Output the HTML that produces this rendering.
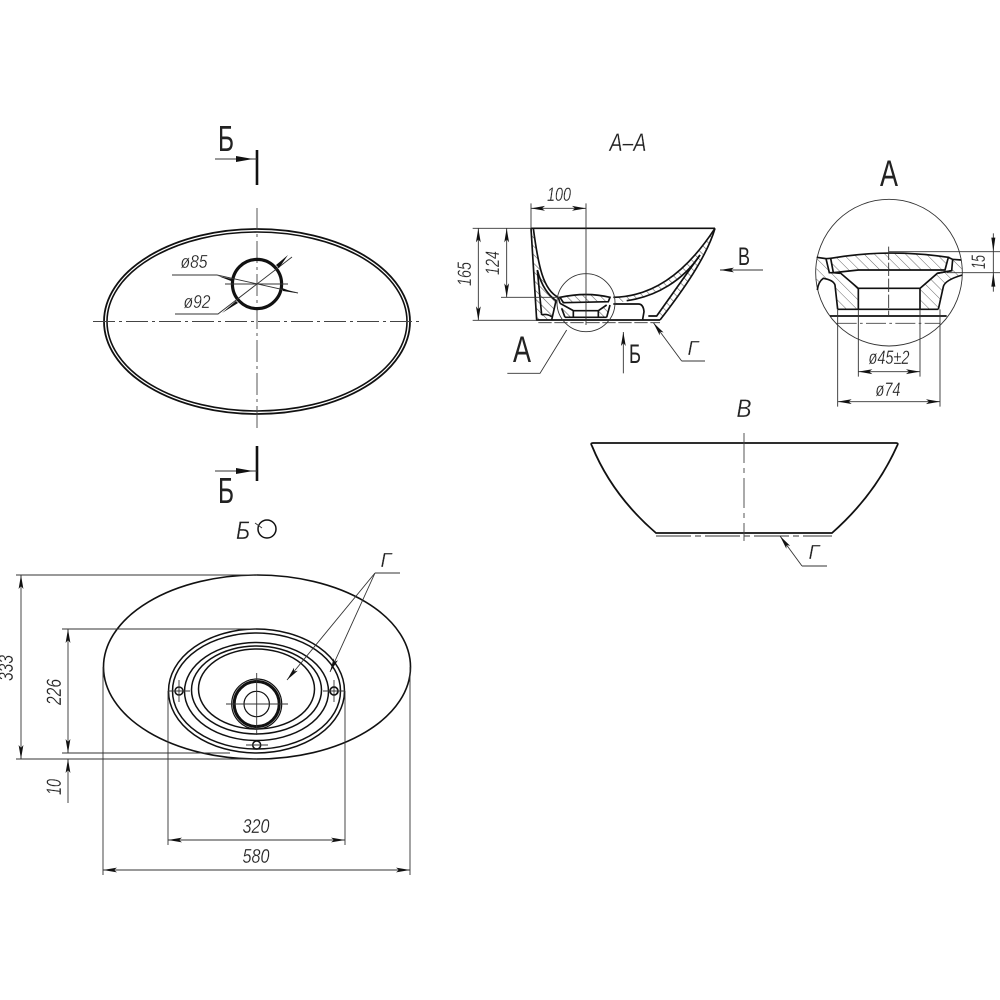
<!DOCTYPE html>
<html><head><meta charset="utf-8">
<style>
html,body{margin:0;padding:0;background:#fff}
svg{display:block}
text{font-family:"Liberation Sans",sans-serif;fill:#222;text-anchor:middle}
.i{font-style:italic;font-weight:normal;stroke:#fff;stroke-width:.25px}
.t{fill:none;stroke:#333;stroke-width:.9}
.m{fill:none;stroke:#111;stroke-width:1.8}
.c{fill:none;stroke:#444;stroke-width:.9;stroke-dasharray:22 4 3 4}
.d{fill:none;stroke:#333;stroke-width:.9;marker-start:url(#as);marker-end:url(#a)}
.e{fill:none;stroke:#333;stroke-width:.9;marker-end:url(#a)}
.z .t{stroke-width:2.7}
.z .m{stroke-width:5}
.z .d{stroke-width:2.7;marker-start:url(#asz);marker-end:url(#az)}
.z .c{stroke-width:2.7;stroke-dasharray:60 10 8 10}
</style></head><body>
<svg width="1000" height="1000" viewBox="0 0 1000 1000" xmlns="http://www.w3.org/2000/svg">
<defs>
<marker id="a" markerUnits="userSpaceOnUse" markerWidth="15" markerHeight="6" refX="14" refY="3" orient="auto"><path d="M0,.6L14,3L0,5.4L3,3Z" fill="#111"/></marker>
<marker id="as" markerUnits="userSpaceOnUse" markerWidth="15" markerHeight="6" refX="1" refY="3" orient="auto"><path d="M15,.6L1,3L15,5.4L12,3Z" fill="#111"/></marker>
<marker id="az" markerUnits="userSpaceOnUse" markerWidth="45" markerHeight="18" refX="42" refY="9" orient="auto"><path d="M0,1.8L42,9L0,16.2L9,9Z" fill="#111"/></marker>
<marker id="asz" markerUnits="userSpaceOnUse" markerWidth="45" markerHeight="18" refX="3" refY="9" orient="auto"><path d="M45,1.8L3,9L45,16.2L36,9Z" fill="#111"/></marker>
<pattern id="hz" width="22" height="22" patternUnits="userSpaceOnUse" patternTransform="rotate(-45)"><line x1="0" y1="0" x2="0" y2="22" stroke="#444" stroke-width="2.4"/></pattern>
<pattern id="hs" width="18" height="18" patternUnits="userSpaceOnUse" patternTransform="rotate(-45)"><line x1="0" y1="0" x2="0" y2="18" stroke="#555" stroke-width="3.4"/></pattern>
</defs>
<rect width="1000" height="1000" fill="#fff"/>

<!-- Top view -->
<ellipse cx="257" cy="321.5" rx="153" ry="92.5" fill="none" stroke="#111" stroke-width="1.8"/>
<ellipse cx="257" cy="321.5" rx="150" ry="89.5" fill="none" stroke="#111" stroke-width="1.6"/>
<path class="c" d="M93,321.5H421M257,208V428"/>
<circle cx="257" cy="284" r="24.6" fill="none" stroke="#111" stroke-width="3.2"/>
<path class="t" d="M225,284H288"/>
<path class="t" d="M172,275H217L298,293"/>
<path class="t" d="M175,314H218L292,257"/>
<path d="M218,276 L232,279 L231,281Z M282,288 L296,293 L283,291Z M222,313 L236,301 L238,303Z M276,265 L288,255 L279,268Z" fill="#111"/>
<text class="i" x="194" y="268" font-size="18" textLength="27" lengthAdjust="spacingAndGlyphs">ø85</text>
<text class="i" x="197" y="308" font-size="18" textLength="27" lengthAdjust="spacingAndGlyphs">ø92</text>
<path d="M257,150V185M257,446V481" stroke="#111" stroke-width="2.6" fill="none"/>
<path class="t" d="M215,159H257M215,471H257"/>
<path d="M236,156L253,159L236,162Z M236,468L253,471L236,474Z" fill="#111"/>
<text x="226" y="151" font-size="36" textLength="16" lengthAdjust="spacingAndGlyphs">Б</text>
<text x="226" y="503" font-size="36" textLength="16" lengthAdjust="spacingAndGlyphs">Б</text>

<!-- Section A-A -->
<text class="i" x="628" y="151" font-size="25" textLength="37" lengthAdjust="spacingAndGlyphs">А–А</text>
<g class="z" transform="translate(450,180) scale(.33333)">
<path fill="url(#hs)" d="M243,145 L250,145 C265,260 280,330 325,352 L305,420 L260,420Z"/>
<path fill="url(#hs)" d="M490,352 C600,350 700,290 795,145 C770,230 700,330 630,420 L620,408 L750,225 C700,300 620,350 530,362 L500,372Z"/>
<path fill="url(#hs)" d="M330,352 Q410,335 480,352 L475,365 L340,368Z"/>
<path fill="url(#hs)" d="M330,370 L370,392 V412 H345 Z M470,375 L445,392 V412 H470 L480,375Z"/>
<path class="m" d="M243,145 H795"/>
<path class="m" d="M243,145 L260,420 H630"/>
<path class="m" d="M250,145 C265,260 280,330 325,352"/>
<path class="m" d="M262,270 L275,405 M262,270 C275,320 295,345 318,362 L305,420 M325,352 L330,370"/>
<path class="m" d="M490,352 C600,350 700,290 795,145"/>
<path class="m" d="M530,362 C620,350 700,300 750,225"/>
<path class="m" d="M795,145 C770,230 700,330 630,420"/>
<path class="m" d="M750,225 L620,408 H595"/>
<path class="m" d="M490,372 H565 Q580,372 582,395 L578,418"/>
<path class="m" d="M330,352 Q410,335 480,352 L475,365 L340,368Z"/>
<path class="m" d="M330,370 L370,392 H445 L470,375 M370,392 V412 H445 V392 M345,412 L335,385 M470,412 L480,375 M345,412 H470"/>
<path class="m" d="M275,405 Q290,400 305,410"/>
<path class="t" d="M265,428 H630" stroke-dasharray="40 8"/>
<circle class="t" cx="408" cy="368" r="87"/>
<path class="t" d="M350,450 L270,580 H172"/>
<path class="t" d="M408,70 V435 M243,70 V145"/>
<path class="d" d="M243,85 H408"/>
<path class="t" d="M68,145 H243 M68,421 H260 M153,352 H325"/>
<path class="d" d="M85,145 V421"/>
<path class="d" d="M170,145 V352"/>
<path class="t" d="M695,543 H765"/>
<path class="e" d="M695,543 L610,428" style="stroke-width:2.7;marker-end:url(#az)"/>
<path class="e" d="M520,580 V456" style="stroke-width:2.7;marker-end:url(#az)"/>
</g>
<text x="522" y="362" font-size="37" textLength="18" lengthAdjust="spacingAndGlyphs">А</text>
<text x="635" y="363" font-size="27" textLength="12" lengthAdjust="spacingAndGlyphs">Б</text>
<text class="i" x="693" y="355" font-size="20">Г</text>
<text x="744" y="265" font-size="25" textLength="12" lengthAdjust="spacingAndGlyphs">В</text>
<path class="e" d="M763,270 H720"/>
<text class="i" x="559" y="201" font-size="19" textLength="24" lengthAdjust="spacingAndGlyphs">100</text>
<text class="i" transform="translate(471,274) rotate(-90)" font-size="19" textLength="24" lengthAdjust="spacingAndGlyphs">165</text>
<text class="i" transform="translate(499,263) rotate(-90)" font-size="19" textLength="24" lengthAdjust="spacingAndGlyphs">124</text>

<!-- Detail A -->
<text x="889" y="186" font-size="37" textLength="18" lengthAdjust="spacingAndGlyphs">А</text>
<g class="z" transform="translate(800,180) scale(.33333)">
<circle class="t" cx="267" cy="278" r="220"/>
<path fill="url(#hz)" d="M92,235 Q265,205 445,232 L435,270 L360,270 L175,270 L100,278Z"/>
<path fill="url(#hz)" d="M50,232 L78,236 L85,278 L120,280 L175,325 V388 H113 L105,315 Q100,300 70,295 Q55,305 48,315Z"/>
<path fill="url(#hz)" d="M458,238 L484,240 L487,285 Q435,300 430,320 L415,388 H360 V325 L412,280 L458,272Z"/>
<path class="m" d="M92,235 Q265,205 445,232 L435,270 H360 L175,270 L100,278Z"/>
<path class="m" d="M50,232 L78,236 L88,278 H120 L175,325 V388 M113,388 H415 M360,388 V325 L412,280 L455,272 L458,238 L484,240 M175,325 H360 M120,280 L100,278 M92,235 L78,236 M445,232 L458,238"/>
<path class="m" d="M113,388 L105,315 Q100,300 70,295 Q55,305 52,330 M415,388 L430,320 Q435,300 487,285 M412,280 L455,272"/>
<path class="m" d="M90,408 H440"/>
<path class="c" d="M110,430 H420"/>
<path class="t" d="M266,200 V408" stroke-dasharray="40 8"/>
<path class="t" d="M113,388 V680 M420,388 V680 M175,388 V590 M360,388 V590"/>
<path class="d" d="M175,575 H360"/>
<path class="d" d="M113,665 H420"/>
<path class="t" d="M266,215 H600 M440,278 H600"/>
<path class="t" d="M580,160 V335"/>
<path d="M574,173 L580,215 L586,173Z M574,320 L580,278 L586,320Z" fill="#111"/>
</g>
<text class="i" x="889" y="364" font-size="19" textLength="41" lengthAdjust="spacingAndGlyphs">ø45±2</text>
<text class="i" x="888" y="396" font-size="19" textLength="25" lengthAdjust="spacingAndGlyphs">ø74</text>
<text class="i" transform="translate(985,262) rotate(-90)" font-size="19" textLength="14" lengthAdjust="spacingAndGlyphs">15</text>

<!-- View B -->
<text class="i" x="744" y="417" font-size="25" textLength="15" lengthAdjust="spacingAndGlyphs">В</text>
<path class="m" d="M656,533 Q612,495 592,446 Q590,443 593,443 H896 Q899,443 897,446 Q875,495 832,533 Z"/>
<path class="t" d="M656,536 H832" stroke-dasharray="35 4 6 4"/>
<path class="c" d="M744,433 V541" style="stroke-dasharray:30 5 5 5"/>
<path class="t" d="M802,566 H827"/>
<path class="e" d="M802,566 L780,536"/>
<text class="i" x="814" y="559" font-size="20">Г</text>

<!-- Bottom view -->
<text class="i" x="243" y="539" font-size="25" textLength="14" lengthAdjust="spacingAndGlyphs">Б</text>
<circle cx="267" cy="529" r="9" fill="none" stroke="#111" stroke-width="1.5"/>
<path class="t" d="M255,523 L262,528"/>
<ellipse cx="257" cy="667" rx="153.5" ry="92" fill="none" stroke="#111" stroke-width="1.6"/>
<g fill="none" stroke="#111" stroke-width="1.5">
<ellipse cx="256.5" cy="691" rx="88" ry="62"/>
<ellipse cx="256.5" cy="691" rx="84" ry="58"/>
<ellipse cx="256.5" cy="691.5" rx="72" ry="49"/>
<ellipse cx="256.5" cy="690" rx="65" ry="44"/>
<ellipse cx="256.5" cy="689" rx="58" ry="40"/>
<circle cx="256.7" cy="704" r="25" stroke-width="1.2"/>
<circle cx="256.7" cy="704" r="22.5" stroke-width="3"/>
<circle cx="256.7" cy="704" r="12.7" stroke-width="1.2"/>
<circle cx="179" cy="691" r="4" />
<circle cx="334" cy="691" r="4" stroke-width="1.7"/>
<circle cx="256.7" cy="745" r="4"/>
</g>
<path class="t" d="M226,704H288M256.7,673V735M168,691H190M323,691H345M179,680V702M334,680V702M246,745H268"/>
<path class="t" d="M16,575H257M16,759H257M62,629H256M62,753H230"/>
<path class="d" d="M21,575V759"/>
<path class="d" d="M68,629V753"/>
<path class="e" d="M68,803V759"/>
<path class="t" d="M168,691V845M345,691V845M103,667V875M410,667V875"/>
<path class="d" d="M168,840H345"/>
<path class="d" d="M103,870H410"/>
<path class="t" d="M375,573H400"/>
<path class="e" d="M375,573L287,680"/>
<path class="e" d="M375,573L330,672"/>
<text class="i" x="386" y="567" font-size="20">Г</text>
<text class="i" transform="translate(13,668) rotate(-90)" font-size="21" textLength="26" lengthAdjust="spacingAndGlyphs">333</text>
<text class="i" transform="translate(61,692) rotate(-90)" font-size="21" textLength="26" lengthAdjust="spacingAndGlyphs">226</text>
<text class="i" transform="translate(61,787) rotate(-90)" font-size="21" textLength="16" lengthAdjust="spacingAndGlyphs">10</text>
<text class="i" x="256" y="833" font-size="20" textLength="27" lengthAdjust="spacingAndGlyphs">320</text>
<text class="i" x="256" y="863" font-size="20" textLength="27" lengthAdjust="spacingAndGlyphs">580</text>
</svg>
</body></html>
